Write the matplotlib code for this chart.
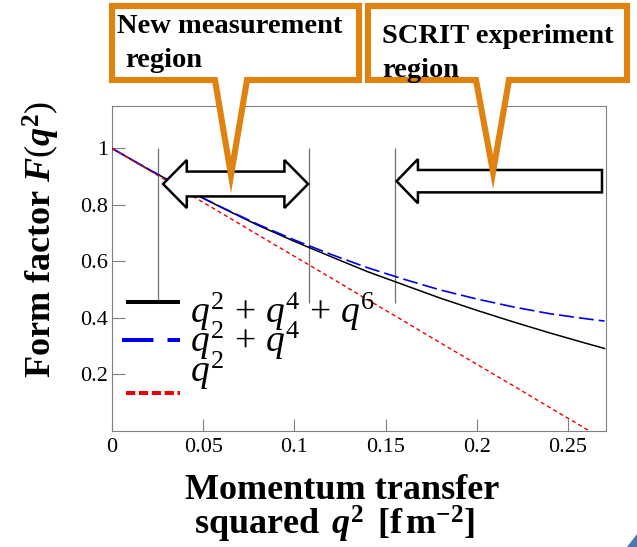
import matplotlib
matplotlib.use('Agg')
import matplotlib.pyplot as plt
from matplotlib.patches import Polygon
from matplotlib.lines import Line2D

plt.rcParams['font.family'] = ['Liberation Serif', 'DejaVu Serif']
plt.rcParams['mathtext.fontset'] = 'custom'
plt.rcParams['mathtext.rm'] = 'Liberation Serif'
plt.rcParams['mathtext.it'] = 'Liberation Serif:italic'
plt.rcParams['mathtext.bf'] = 'Liberation Serif:bold:italic'
plt.rcParams['mathtext.sf'] = 'Liberation Serif:bold'

# values
q2 = [0, 0.02, 0.04, 0.06, 0.08, 0.10, 0.12, 0.14, 0.16, 0.18, 0.20, 0.22, 0.24, 0.26, 0.27]
f_q246 = [1.0, 0.926, 0.856, 0.791, 0.728, 0.671, 0.617, 0.564, 0.517, 0.470, 0.427, 0.386, 0.347, 0.310, 0.292]
f_q24 = [1.0, 0.926, 0.856, 0.792, 0.731, 0.676, 0.625, 0.578, 0.537, 0.499, 0.467, 0.439, 0.415, 0.397, 0.389]
q2_lin = [0, 0.02, 0.04, 0.06, 0.08, 0.10, 0.12, 0.14, 0.16, 0.18, 0.20, 0.22, 0.24, 0.26, 0.262]
f_q2 = [1.0, 0.924, 0.847, 0.771, 0.694, 0.618, 0.542, 0.465, 0.389, 0.312, 0.236, 0.160, 0.083, 0.007, 0.0]

labels = [r'$q^2\,+\,q^4\,+\,q^6$', r'$q^2\,+\,q^4$', r'$q^2$']
xticks = [0, 0.05, 0.1, 0.15, 0.2, 0.25]
xticklabels = ['0', '0.05', '0.1', '0.15', '0.2', '0.25']
yticks = [0.2, 0.4, 0.6, 0.8, 1.0]
yticklabels = ['0.2', '0.4', '0.6', '0.8', '1']

# region borders
region_x = [0.025, 0.108, 0.155]
region_top, region_bottom = 1.0, 0.452

W, H = 637, 547
orange = '#E0820F'
gray = '#808080'
black, blue, red = 'black', '#0000EE', '#EE0000'


def px(x, y):
    # pixel position (from top left) to figure fraction
    return x / W, 1 - y / H


fig = plt.figure(figsize=(W / 100, H / 100), dpi=100)
ax = fig.add_axes([112 / W, 1 - 431 / H, 494 / W, 325 / H])

ax.plot(q2, f_q246, color=black, lw=1.1, zorder=3)
ax.plot(q2, f_q24, color=blue, lw=1.2, dashes=(9, 3), zorder=3)
ax.plot(q2_lin, f_q2, color=red, lw=1.0, dashes=(3, 2.2), zorder=3)
ax.vlines(region_x, region_bottom, region_top, color='#707070', lw=0.9, zorder=2)

ax.set_xlim(0, 0.2708)
ax.set_ylim(0, 1.15)
ax.set_xticks(xticks)
ax.set_xticklabels(xticklabels)
ax.set_yticks(yticks)
ax.set_yticklabels(yticklabels)
ax.tick_params(direction='in', length=9, width=0.8, color=gray, labelsize=16)
ax.tick_params(axis='x', pad=5)
ax.tick_params(axis='y', pad=3)
for s in ax.spines.values():
    s.set_color(gray)
    s.set_linewidth(0.8)

# legend, laid out by hand like the original (keys and texts are offset)
keys = [dict(color=black, lw=2.9, y=302, x0=126, ls='-'),
        dict(color=blue, lw=2.9, y=340, x0=122, ls=(0, (7.8, 3.5))),
        dict(color=red, lw=2.9, y=393, x0=126, ls=(0, (2.3, 0.9)))]
text_base = [323, 352, 382]
for k, lab, yb in zip(keys, labels, text_base):
    (fx0, fy), (fx1, _) = px(k['x0'], k['y']), px(180, k['y'])
    fig.add_artist(Line2D([fx0, fx1], [fy, fy], transform=fig.transFigure,
                          color=k['color'], lw=k['lw'], linestyle=k['ls'],
                          solid_capstyle='butt', dash_capstyle='butt', zorder=5))
    fig.text(*px(190, yb), lab, fontsize=27, va='baseline', ha='left', zorder=5)


# block arrows
def block_arrow(x0, x1, yc, double):
    dx, sh, hh = 0.013, 0.044, 0.085
    if double:
        pts = [(x0, yc), (x0 + dx, yc + hh), (x0 + dx, yc + sh), (x1 - dx, yc + sh),
               (x1 - dx, yc + hh), (x1, yc), (x1 - dx, yc - hh), (x1 - dx, yc - sh),
               (x0 + dx, yc - sh), (x0 + dx, yc - hh)]
    else:
        pts = [(x0, yc), (x0 + dx * 0.9, yc + hh * 0.92), (x0 + dx * 0.9, yc + sh * 0.9),
               (x1, yc + sh * 0.9), (x1, yc - sh * 0.9), (x0 + dx * 0.9, yc - sh * 0.9),
               (x0 + dx * 0.9, yc - hh * 0.92)]
    ax.add_patch(Polygon(pts, closed=True, facecolor='white', edgecolor='black',
                         lw=1.8, joinstyle='miter', zorder=4))


block_arrow(0.028, 0.1075, 0.874, True)
block_arrow(0.156, 0.2686, 0.884, False)


# callout boxes
def callout(left, right, top, bottom, b0, b1, tip):
    pts = [(left, top), (right, top), (right, bottom), (b1, bottom), tip,
           (b0, bottom), (left, bottom)]
    fig.add_artist(Polygon([px(*p) for p in pts], closed=True, transform=fig.transFigure,
                           facecolor='white', edgecolor=orange, lw=4.4,
                           joinstyle='miter', zorder=10))


callout(112, 359, 6, 80, 215, 247, (231, 175))
callout(368, 627, 6, 80, 476, 509, (493, 172))

tkw = dict(fontsize=20.5, fontweight='bold', va='baseline', ha='left', zorder=11)
fig.text(*px(117, 33), 'New measurement', **tkw)
fig.text(*px(125, 67), 'region', **tkw)
fig.text(*px(382, 43), 'SCRIT experiment', **tkw)
fig.text(*px(382, 77), 'region', **tkw)

# axis titles
fig.text(*px(41, 240), r'Form factor $\mathbf{F}(\mathbf{q}^{\mathsf{2}})$', rotation=90,
         ha='center', va='center', fontsize=26, fontweight='bold')
fig.text(*px(342, 499), 'Momentum transfer', ha='center', va='baseline',
         fontsize=26, fontweight='bold')
fig.text(*px(335, 535), r'squared $\,\mathbf{q}^{\mathsf{2}}\,$ [f$\,$m$^{\mathsf{-2}}$]',
         ha='center', va='baseline', fontsize=26, fontweight='bold')

# slide corner mark
fig.add_artist(Polygon([px(627, 547), px(637, 534), px(637, 547)], closed=True,
                       transform=fig.transFigure, color='#4A78B0', lw=0, zorder=12))

fig.savefig('out.png', dpi=100)
